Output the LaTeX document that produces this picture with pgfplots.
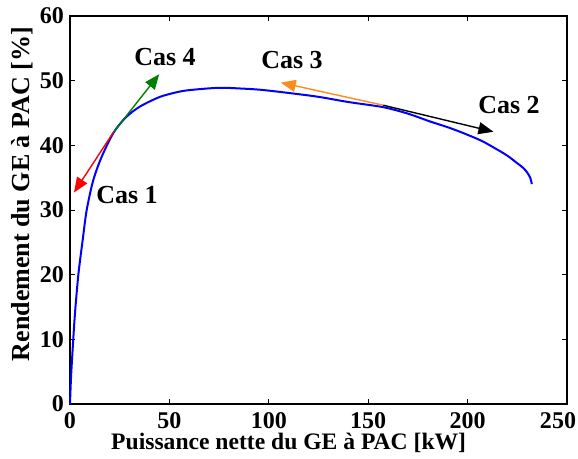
\documentclass[border=0pt]{standalone}
\usepackage{fontspec}
\setmainfont{Liberation Serif}
\usepackage{pgfplots}
\pgfplotsset{compat=1.18}
\usetikzlibrary{arrows.meta}
\definecolor{cgreen}{rgb}{0,0.5,0}
\definecolor{corange}{rgb}{1,0.55,0.1}
\begin{document}
\begin{tikzpicture}
\path[use as bounding box] (-35pt,-27.5pt) rectangle (254pt,202pt);
\begin{axis}[
  at={(0,0)}, anchor=south west,
  scale only axis, width=248.5pt, height=194pt,
  xmin=0, xmax=250, ymin=0, ymax=60,
  xtick={0,50,...,200}, ytick={0,10,...,60},
  extra x ticks={250},
  extra x tick style={xticklabel style={xshift=-4.5pt}},
  tick align=inside, major tick length=2.5pt,
  tick style={black, line width=0.4pt},
  axis line style={line width=0.8pt},
  /pgf/number format/assume math mode=true,
  ticklabel style={font=\bfseries\fontsize{12}{13}\selectfont},
  xticklabel style={yshift=-0.5pt},
  yticklabel style={xshift=0.5pt},
  xlabel={Puissance nette du GE à PAC [kW]},
  ylabel={Rendement du GE à PAC [\%]},
  xlabel style={font=\bfseries\fontsize{11.8}{13}\selectfont, at={(axis description cs:0.44,-0.1)}, anchor=center},
  ylabel style={font=\bfseries\fontsize{13}{14}\selectfont, at={(axis description cs:-0.0966,0.541)}, anchor=center},
  every axis plot/.append style={no markers},
  clip=false,
]
\addplot[blue, line width=1pt, smooth] coordinates {
(0,0) (0.5,4) (1.3,8.3) (2.5,14) (4.2,20) (6.4,25.4) (8.4,30) (11.7,34.6)
(15.9,38.2) (21.8,41.9) (28,44.3) (35.2,46.0) (45.3,47.5) (55,48.3) (62,48.6)
(75,48.9) (85,48.8) (95.6,48.6) (110,48.1) (125,47.5) (140,46.7) (157.6,45.9)
(170,44.9) (181,43.7) (190,42.8) (197.8,41.9) (207,40.7) (214.6,39.4) (220,38.4)
(224.7,37.3) (228,36.5) (230.2,35.7) (231.6,34.9) (232.3,34.0)
};
\addplot[red, line width=0.7pt, -{Triangle[length=7.5pt,width=6pt]}] coordinates {(21.8,42.0) (2,32.7)};
\addplot[cgreen, line width=0.7pt, -{Triangle[length=7.5pt,width=6pt]}] coordinates {(21.8,42.0) (44.9,51.0)};
\addplot[corange, line width=0.7pt, -{Triangle[length=7.5pt,width=6pt]}] coordinates {(157.6,46.2) (106,49.7)};
\addplot[black, line width=0.7pt, -{Triangle[length=7.5pt,width=6pt]}] coordinates {(157.6,46.2) (213,42.1)};
\node[font=\bfseries\fontsize{13}{14}\selectfont] at (axis cs:47.8,53.7) {Cas 4};
\node[font=\bfseries\fontsize{13}{14}\selectfont] at (axis cs:28.7,32.3) {Cas 1};
\node[font=\bfseries\fontsize{13}{14}\selectfont] at (axis cs:111.7,53.2) {Cas 3};
\node[font=\bfseries\fontsize{13}{14}\selectfont] at (axis cs:220.8,46.2) {Cas 2};
\end{axis}
\end{tikzpicture}
\end{document}
